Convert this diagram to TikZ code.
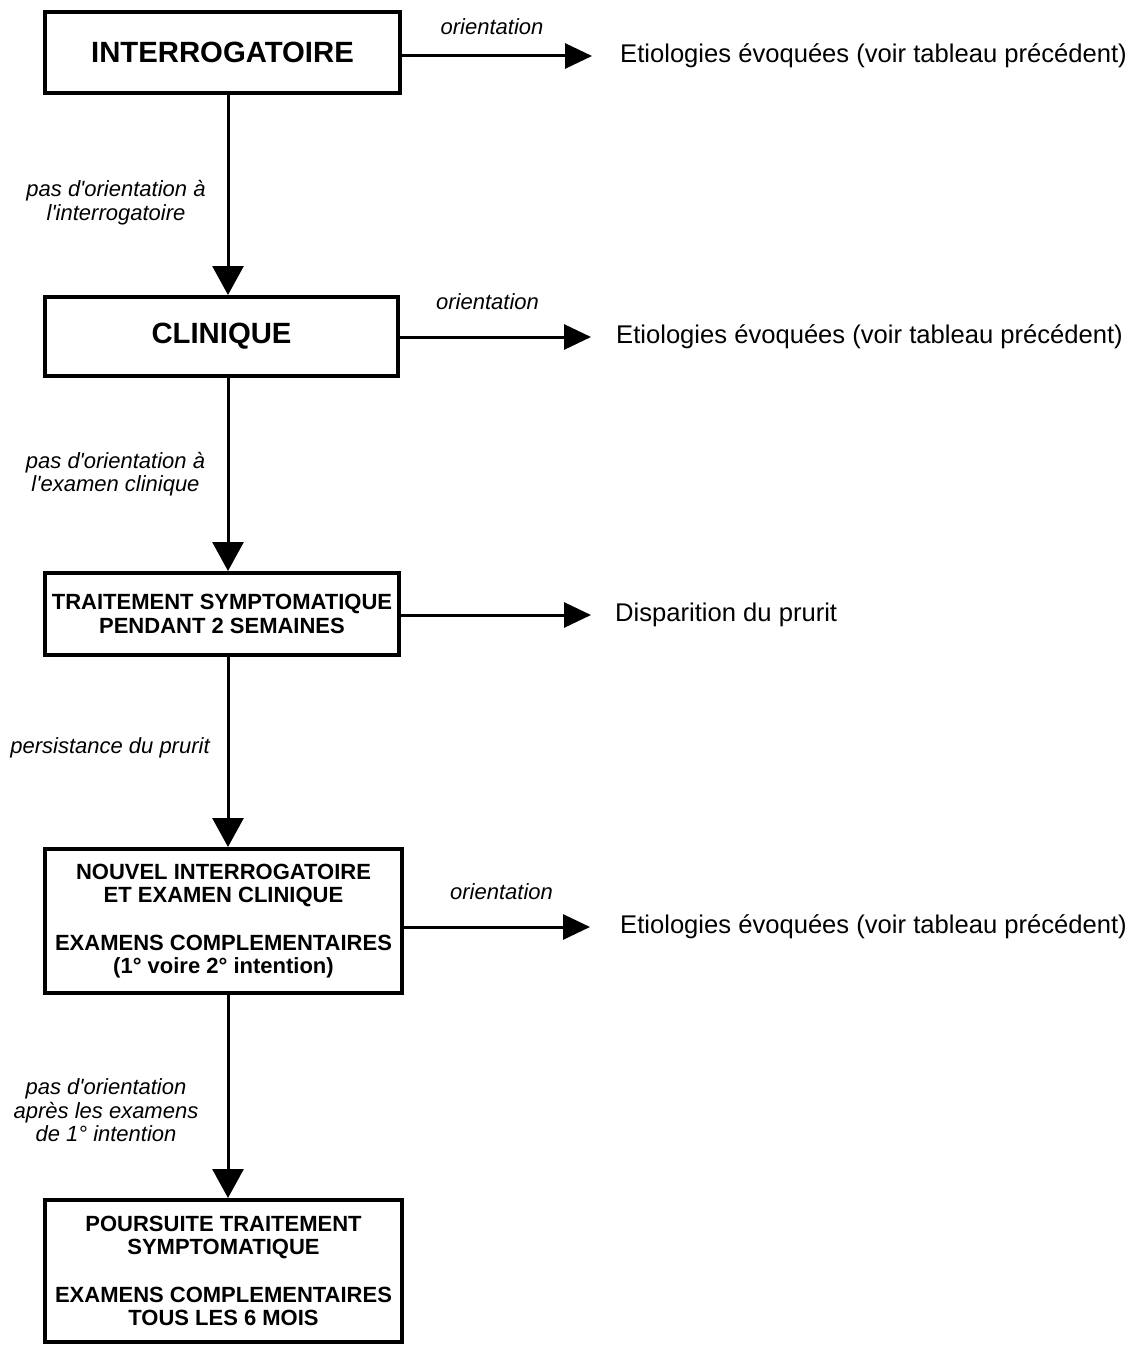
\documentclass[tikz,border=0pt]{standalone}
\usepackage{fontspec}
\setmainfont{Liberation Sans}
\usetikzlibrary{arrows.meta}
\newcommand{\ap}{\textquotesingle}
\begin{document}
\begin{tikzpicture}[x=1pt,y=-1pt,
  box/.style={draw=black, line width=4pt, align=center, inner sep=0pt,
              font=\fontsize{22}{23.5}\selectfont\bfseries},
  bigbox/.style={box, font=\fontsize{29.3}{30}\selectfont\bfseries},
  lbl/.style={font=\fontsize{22}{23.5}\selectfont\itshape, align=center, inner sep=0pt},
  res/.style={font=\fontsize{25.6}{28}\selectfont, anchor=west, inner sep=0pt},
  varr/.style={line width=3pt, -{Triangle[length=29pt,width=31pt]}},
  harr/.style={line width=3pt, -{Triangle[length=27pt,width=25pt]}}]
\useasboundingbox (0,0) rectangle (1137,1348);

% main column of steps
\node[bigbox, minimum width=355pt, minimum height=81pt] (b1) at (222.5,52.5) {INTERROGATOIRE};
\node[bigbox, minimum width=353pt, minimum height=79pt] (b2) at (221.5,336.5) {CLINIQUE};
\node[box, minimum width=354pt, minimum height=82pt] (b3) at (222,614)
  {TRAITEMENT SYMPTOMATIQUE\\PENDANT 2 SEMAINES};
\node[box, minimum width=357pt, minimum height=144pt] (b4) at (223.5,921)
  {NOUVEL INTERROGATOIRE\\ET EXAMEN CLINIQUE\\[24pt]EXAMENS COMPLEMENTAIRES\\(1° voire 2° intention)};
\node[box, minimum width=357pt, minimum height=142pt] (b5) at (223.5,1271)
  {POURSUITE TRAITEMENT\\SYMPTOMATIQUE\\[24pt]EXAMENS COMPLEMENTAIRES\\TOUS LES 6 MOIS};

% outcomes on the right
\node[res] (e1) at (620,56) {Etiologies évoquées (voir tableau précédent)};
\node[res] (e2) at (616,337) {Etiologies évoquées (voir tableau précédent)};
\node[res] (e3) at (615,615) {Disparition du prurit};
\node[res] (e4) at (620,927) {Etiologies évoquées (voir tableau précédent)};

% vertical spine
\coordinate (sp) at (228,0);
\draw[varr] (b1.south -| sp) -- (b2.north -| sp);
\draw[varr] (b2.south -| sp) -- (b3.north -| sp);
\draw[varr] (b3.south -| sp) -- (b4.north -| sp);
\draw[varr] (b4.south -| sp) -- (b5.north -| sp);

% side arrows
\draw[harr] (b1.east |- e1.west) -- ([xshift=-28pt]e1.west);
\draw[harr] (b2.east |- e2.west) -- ([xshift=-25pt]e2.west);
\draw[harr] (b3.east |- e3.west) -- ([xshift=-24pt]e3.west);
\draw[harr] (b4.east |- e4.west) -- ([xshift=-30pt]e4.west);

% arrow labels
\node[lbl] (o1) at (492,27) {orientation};
\node[lbl] (o2) at (487.5,302) {orientation};
\node[lbl] (o4) at (501.5,892) {orientation};
\node[lbl] (l1) at (116,202.5) {pas d\ap orientation à\\l\ap interrogatoire};
\node[lbl] (l2) at (115.5,474) {pas d\ap orientation à\\l\ap examen clinique};
\node[lbl] (l3) at (110,748) {persistance du prurit};
\node[lbl] (l4) at (106,1110.5) {pas d\ap orientation\\après les examens\\de 1° intention};
\end{tikzpicture}
\end{document}
